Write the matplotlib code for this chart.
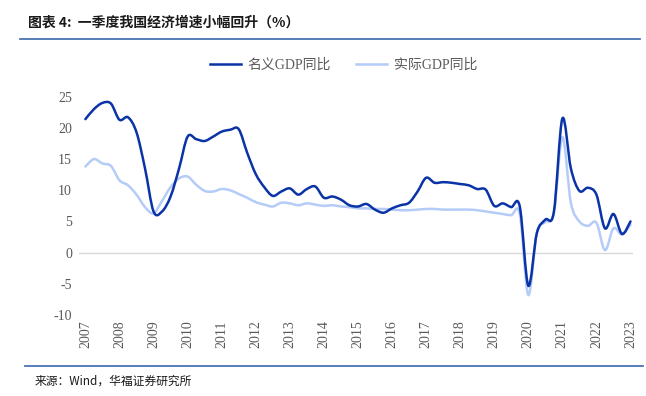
# 一季度我国经济增速小幅回升
import matplotlib
matplotlib.use('Agg')
import matplotlib.pyplot as plt
import numpy as np
from matplotlib.path import Path
from matplotlib.patches import PathPatch
from matplotlib.lines import Line2D

# dados: 2007Q1 - 2023Q1 (trimestral)
anos = list(range(2007, 2024))
nominal = [21.4, 23.0, 24.0, 23.9, 21.3, 21.7, 19.3, 13.5, 6.6, 6.6, 9.0, 13.5,
           18.6, 18.2, 17.9, 18.6, 19.4, 19.7, 19.8, 16.0, 12.6, 10.5, 9.1, 9.8,
           10.3, 9.3, 10.2, 10.6, 8.8, 9.0, 8.5, 7.6, 7.4, 7.8, 6.9, 6.4,
           7.1, 7.6, 8.0, 9.8, 12.0, 11.2, 11.3, 11.2, 11.0, 10.8, 10.2, 10.1,
           7.5, 7.9, 7.3, 7.4, -5.3, 3.1, 5.3, 6.5, 21.5, 13.5, 9.9, 10.4,
           9.3, 3.9, 6.2, 3.0, 5.0]
real = [13.8, 15.0, 14.3, 13.9, 11.6, 10.8, 9.3, 7.3, 6.3, 8.3, 10.5, 11.9,
        12.2, 10.9, 9.9, 9.8, 10.2, 10.0, 9.4, 8.8, 8.1, 7.7, 7.4, 8.0,
        7.9, 7.6, 7.9, 7.7, 7.5, 7.6, 7.4, 7.3, 7.1, 7.1, 7.0, 7.0,
        6.9, 6.8, 6.8, 6.9, 7.0, 7.0, 6.9, 6.9, 6.9, 6.9, 6.8, 6.6,
        6.4, 6.2, 6.0, 6.2, -6.8, 3.2, 4.9, 6.4, 18.5, 8.0, 5.0, 4.3,
        4.8, 0.4, 3.9, 2.9, 4.5]
cor_nom = '#0a33a6'
cor_real = '#b5cbf8'


def curva_suave(y):
    # linha suavizada (estilo Excel) com segmentos de Bezier
    x = np.arange(len(y), dtype=float)
    y = np.asarray(y, dtype=float)
    verts = [(x[0], y[0])]
    codes = [Path.MOVETO]
    n = len(y)
    for i in range(n - 1):
        x0, y0 = x[max(i - 1, 0)], y[max(i - 1, 0)]
        x3, y3 = x[min(i + 2, n - 1)], y[min(i + 2, n - 1)]
        c1 = (x[i] + (x[i + 1] - x0) / 6, y[i] + (y[i + 1] - y0) / 6)
        c2 = (x[i + 1] - (x3 - x[i]) / 6, y[i + 1] - (y3 - y[i]) / 6)
        verts += [c1, c2, (x[i + 1], y[i + 1])]
        codes += [Path.CURVE4] * 3
    return Path(verts, codes)


fig = plt.figure(figsize=(6.46, 3.96), dpi=100)
ax = fig.add_axes([0.1223, 0.2045, 0.857, 0.5513])

ax.add_patch(PathPatch(curva_suave(real), facecolor='none', edgecolor=cor_real, lw=1.8,
                       capstyle='round', joinstyle='round', zorder=3))
ax.add_patch(PathPatch(curva_suave(nominal), facecolor='none', edgecolor=cor_nom, lw=1.8,
                       capstyle='round', joinstyle='round', zorder=4))
ax.axhline(0, color='#d9d9d9', lw=1, zorder=1)

ax.set_xlim(-0.75, 64.25)
ax.set_ylim(-10, 25)
ax.set_yticks(range(-10, 30, 5))
ax.set_xticks([4 * i for i in range(len(anos))])
ax.set_xticklabels([str(a) for a in anos], rotation=90, fontsize=10,
                   family='Liberation Serif', color='#595959')
ax.set_yticklabels([str(v) for v in range(-10, 30, 5)], fontsize=10,
                   family='Liberation Serif', color='#595959')
ax.tick_params(length=0, pad=5)
ax.tick_params(axis='x', pad=4)
for s in ax.spines.values():
    s.set_visible(False)

# legenda
handles = [Line2D([], [], color=cor_nom, lw=1.8), Line2D([], [], color=cor_real, lw=1.8)]
fig.legend(handles, ['名义GDP同比', '实际GDP同比'], loc='center', bbox_to_anchor=(0.532, 0.836),
           ncol=2, frameon=False, handlelength=2.2, columnspacing=1.8, handletextpad=0.5,
           prop={'family': ['Liberation Serif', 'Noto Sans CJK SC'], 'size': 10},
           labelcolor='#595959')

# titulo, linhas e fonte
fig.text(0.043, 0.944, '图表 4:  一季度我国经济增速小幅回升（%）', fontsize=10, weight='bold',
         family=['Noto Sans CJK SC', 'DejaVu Sans'], va='center', ha='left', color='#1a1a1a')
fig.add_artist(Line2D([0.031, 0.991], [0.9015, 0.9015], color='#4a74b4', lw=1.3))
fig.add_artist(Line2D([0.0387, 0.995], [0.0758, 0.0758], color='#4a74b4', lw=1.3))
fig.text(0.054, 0.038, '来源：Wind，华福证券研究所', fontsize=8.5,
         family=['Noto Sans CJK SC', 'DejaVu Sans'], va='center', ha='left', color='#1a1a1a')

fig.savefig('out.png', dpi=100)
